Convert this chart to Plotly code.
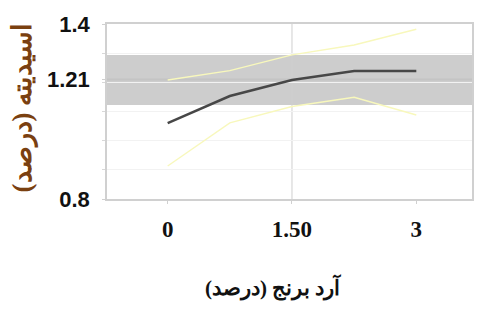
import plotly.graph_objects as go

# Data
rice_flour = [0, 0.75, 1.5, 2.25, 3]
acidity = [1.06, 1.153, 1.208, 1.239, 1.239]
upper_limit = [1.208, 1.24, 1.294, 1.328, 1.382]
lower_limit = [0.913, 1.061, 1.117, 1.149, 1.088]
band_low, band_high, band_target = 1.122, 1.294, 1.21
x_ticks = [0, 1.5, 3]
x_tick_labels = ["0", "1.50", "3"]
y_ticks = [0.8, 1.21, 1.4]
y_tick_labels = ["0.8", "1.21", "1.4"]

fig = go.Figure()
fig.add_shape(type="rect", xref="paper", x0=0, x1=1, y0=band_low, y1=band_high,
              fillcolor="#cdcdcd", line_width=0, layer="below")
fig.add_shape(type="line", xref="paper", x0=0, x1=1, y0=band_target, y1=band_target,
              line=dict(color="#bdbdbd", width=1.5), layer="below")
# vertical gridline at the middle tick only
fig.add_shape(type="line", yref="paper", x0=x_ticks[1], x1=x_ticks[1], y0=0, y1=1,
              line=dict(color="#cfcfcf", width=1), layer="below")

fig.add_trace(go.Scatter(x=rice_flour, y=upper_limit, mode="lines",
                         line=dict(color="#f8f8bc", width=1.4), showlegend=False))
fig.add_trace(go.Scatter(x=rice_flour, y=lower_limit, mode="lines",
                         line=dict(color="#f8f8bc", width=1.4), showlegend=False))
fig.add_trace(go.Scatter(x=rice_flour, y=acidity, mode="lines",
                         line=dict(color="#474747", width=2.5), showlegend=False))

fig.update_layout(
    width=466, height=293,
    margin=dict(l=99, r=0, t=16, b=102),
    paper_bgcolor="white", plot_bgcolor="white",
    showlegend=False,
    xaxis=dict(range=[-0.732, 3.672], tickvals=x_ticks,
               ticktext=["<b>%s</b>" % t for t in x_tick_labels],
               tickfont=dict(family="Liberation Serif", size=23, color="#111"),
               showgrid=False,
               showline=True, linecolor="#d0d0d0", mirror=True, linewidth=1.5,
               ticks="outside", ticklen=3, tickcolor="#d0d0d0",
               ticklabelstandoff=6, zeroline=False),
    yaxis=dict(range=[0.8, 1.4], tickvals=y_ticks,
               ticktext=["<b>%s</b>" % t for t in y_tick_labels],
               tickfont=dict(family="Liberation Sans", size=22, color="#111"),
               showgrid=True, gridcolor="#c4c4c4", gridwidth=1,
               minor=dict(dtick=0.1, tick0=0.8, showgrid=True, gridcolor="#f2f2f2",
                          ticks="outside", ticklen=3, tickcolor="#d8d8d8"),
               showline=True, linecolor="#d0d0d0", mirror=True, linewidth=1.5,
               ticks="outside", ticklen=3, tickcolor="#d0d0d0",
               ticklabelstandoff=8, zeroline=False),
    annotations=[
        dict(text="<b>آرد برنج (درصد)</b>", xref="paper", yref="paper",
             x=0.455, y=-0.505, xanchor="center", yanchor="middle", showarrow=False,
             font=dict(family="Liberation Serif", size=21, color="#111")),
        dict(text="<b>اسیدیته (درصد)</b>", xref="paper", yref="paper",
             x=-0.2316, y=0.526, xanchor="center", yanchor="middle",
             showarrow=False, textangle=-90,
             font=dict(family="Liberation Serif", size=27, color="#7a4010")),
    ],
)

fig.write_html("out.html")
